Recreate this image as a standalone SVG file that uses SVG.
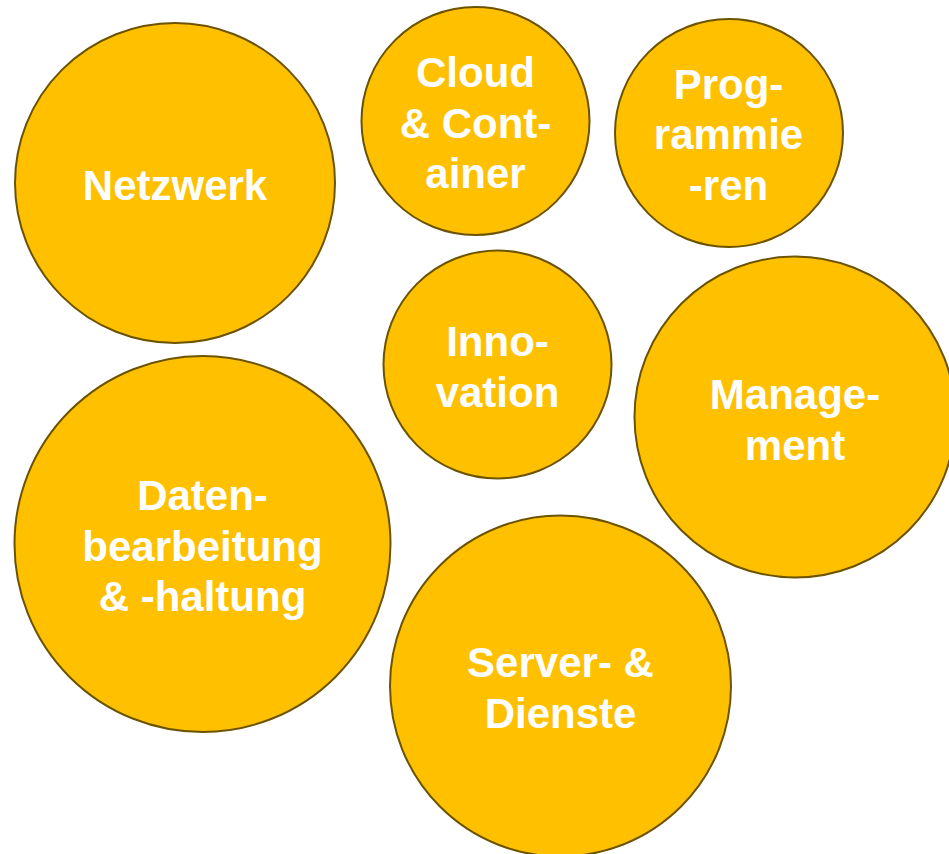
<svg xmlns="http://www.w3.org/2000/svg" width="949" height="854" viewBox="0 0 949 854">
<style>
.c{fill:#FFC000;stroke:#6B5300;stroke-width:2}
.t{font-family:"Liberation Sans",Arial,sans-serif;font-weight:bold;font-size:42px;fill:#FFFFFF;text-anchor:middle}
</style>
<rect width="949" height="854" fill="#FFFFFF"/>
<g id="connectors"></g>
<g id="netzwerk">
<circle class="c" cx="175" cy="183" r="160"/>
<text class="t" x="175" y="200">Netzwerk</text>
</g>
<g id="cloud">
<circle class="c" cx="475.5" cy="121" r="114"/>
<text class="t" x="475.5" y="87">Cloud</text>
<text class="t" x="475.5" y="137.5">&amp; Cont-</text>
<text class="t" x="475.5" y="188">ainer</text>
</g>
<g id="programmieren">
<circle class="c" cx="729" cy="133" r="114"/>
<text class="t" x="728.5" y="98.5">Prog-</text>
<text class="t" x="728.5" y="149">rammie</text>
<text class="t" x="728.5" y="199.5">-ren</text>
</g>
<g id="innovation">
<circle class="c" cx="497.5" cy="364.5" r="114"/>
<text class="t" x="497.5" y="356">Inno-</text>
<text class="t" x="497.5" y="406.5">vation</text>
</g>
<g id="management">
<circle class="c" cx="795" cy="417" r="160.5"/>
<text class="t" x="795" y="409">Manage-</text>
<text class="t" x="795" y="459.5">ment</text>
</g>
<g id="datenbearbeitung">
<circle class="c" cx="202.5" cy="544" r="188"/>
<text class="t" x="202.5" y="510">Daten-</text>
<text class="t" x="202.5" y="560.5">bearbeitung</text>
<text class="t" x="202.5" y="611">&amp; -haltung</text>
</g>
<g id="server">
<circle class="c" cx="560.5" cy="686" r="170.5"/>
<text class="t" x="560.5" y="677">Server- &amp;</text>
<text class="t" x="560.5" y="727.5">Dienste</text>
</g>
</svg>
